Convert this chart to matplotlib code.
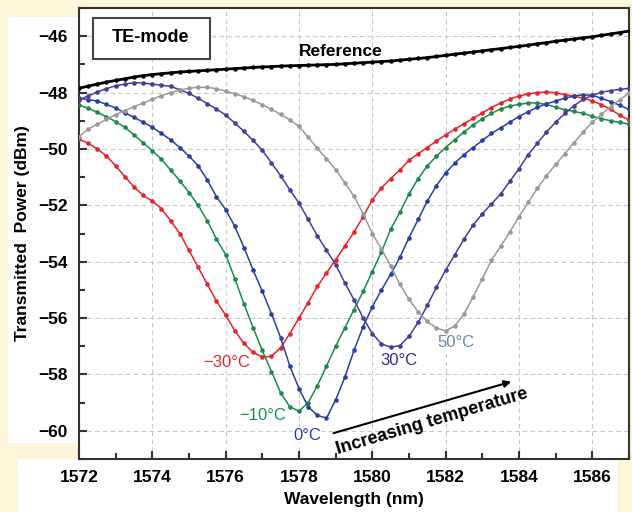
import numpy as np
import matplotlib
matplotlib.use("Agg")
import matplotlib.pyplot as plt
from matplotlib.patches import Rectangle

plt.rcParams["font.family"] = ["Liberation Sans", "DejaVu Sans"]

OUT_PATH = "out.png"

# wavelength grid (nm), 0.25 nm steps from 1572 to 1587
wavelength = np.arange(1572.0, 1587.001, 0.25)

reference = [
    -47.85, -47.77, -47.70, -47.63, -47.57, -47.51, -47.45, -47.40, -47.36, -47.33,
    -47.30, -47.27, -47.25, -47.23, -47.21, -47.19, -47.17, -47.15, -47.13, -47.11,
    -47.09, -47.08, -47.06, -47.05, -47.04, -47.03, -47.02, -47.01, -47.00, -46.98,
    -46.96, -46.94, -46.92, -46.90, -46.88, -46.85, -46.82, -46.79, -46.76, -46.72,
    -46.68, -46.64, -46.60, -46.56, -46.52, -46.48, -46.44, -46.40, -46.36, -46.32,
    -46.27, -46.23, -46.18, -46.14, -46.10, -46.06, -46.02, -45.97, -45.92, -45.87,
    -45.82,
]

t_minus30 = [
    -49.65, -49.80, -50.00, -50.25, -50.60, -50.98, -51.35, -51.65, -51.85, -52.12,
    -52.55, -53.00, -53.60, -54.20, -54.80, -55.40, -55.90, -56.45, -56.90, -57.22,
    -57.38, -57.36, -57.05, -56.55, -56.00, -55.45, -54.88, -54.40, -53.93, -53.45,
    -52.95, -52.40, -51.80, -51.38, -51.05, -50.75, -50.40, -50.17, -49.95, -49.72,
    -49.50, -49.30, -49.10, -48.92, -48.72, -48.53, -48.37, -48.23, -48.12, -48.05,
    -48.00, -47.98, -48.01, -48.07, -48.13, -48.20, -48.30, -48.43, -48.60, -48.80,
    -48.98,
]

t_minus10 = [
    -48.44, -48.56, -48.70, -48.86, -49.03, -49.23, -49.50, -49.78, -50.06, -50.37,
    -50.75, -51.13, -51.55, -52.00, -52.55, -53.20, -53.75, -54.60, -55.50, -56.35,
    -57.15, -57.90, -58.65, -59.15, -59.30, -59.00, -58.40, -57.70, -57.00, -56.35,
    -55.70, -55.05, -54.35, -53.65, -52.85, -52.25, -51.60, -51.05, -50.60, -50.25,
    -49.95, -49.67, -49.40, -49.15, -48.93, -48.74, -48.58, -48.48, -48.42, -48.37,
    -48.37, -48.42, -48.52, -48.61, -48.67, -48.74, -48.84, -48.93, -49.00, -49.06,
    -49.12,
]

t_0 = [
    -48.20, -48.25, -48.30, -48.42, -48.55, -48.72, -48.88, -49.05, -49.23, -49.45,
    -49.68, -49.95, -50.25, -50.60, -51.10, -51.70, -52.15, -52.75, -53.50, -54.30,
    -55.05, -55.85, -56.70, -57.70, -58.50, -59.15, -59.45, -59.55, -58.90, -58.10,
    -57.15, -56.30, -55.60, -55.00, -54.45, -53.85, -53.15, -52.50, -51.85, -51.30,
    -50.85, -50.50, -50.20, -49.95, -49.70, -49.45, -49.25, -49.05, -48.85, -48.68,
    -48.52, -48.40, -48.30, -48.20, -48.12, -48.08, -48.10, -48.20, -48.32, -48.45,
    -48.60,
]

t_30 = [
    -48.26, -48.12, -47.98, -47.86, -47.76, -47.70, -47.65, -47.66, -47.70, -47.74,
    -47.78, -47.90, -48.03, -48.20, -48.40, -48.58, -48.80, -49.08, -49.38, -49.70,
    -50.05, -50.50, -50.95, -51.45, -51.92, -52.50, -53.08, -53.60, -54.10, -54.75,
    -55.35, -56.00, -56.55, -56.92, -57.03, -56.98, -56.65, -56.15, -55.55, -54.90,
    -54.30, -53.75, -53.20, -52.70, -52.30, -51.95, -51.60, -51.15, -50.70, -50.20,
    -49.80, -49.40, -49.05, -48.74, -48.47, -48.24, -48.10, -47.99, -47.93, -47.89,
    -47.85,
]

t_50 = [
    -49.56, -49.30, -49.12, -48.95, -48.78, -48.64, -48.50, -48.37, -48.24, -48.11,
    -48.00, -47.91, -47.85, -47.81, -47.82, -47.86, -47.95, -48.04, -48.15, -48.28,
    -48.43, -48.60, -48.77, -48.97, -49.20, -49.58, -49.98, -50.35, -50.73, -51.20,
    -51.68, -52.30, -53.00, -53.55, -54.15, -54.80, -55.33, -55.78, -56.12, -56.36,
    -56.45, -56.28, -55.85, -55.25, -54.60, -53.95, -53.45, -52.95, -52.40, -51.90,
    -51.40, -50.95, -50.55, -50.17, -49.78, -49.40, -49.05, -48.77, -48.50, -48.25,
    -48.02,
]

curves = [
    (t_minus30, "#e5242b", "\u221230\u00b0C", "#e5242b", (1576.04, -57.59)),
    (t_minus10, "#1d8a4e", "\u221210\u00b0C", "#1a9050", (1577.02, -59.44)),
    (t_0, "#2b3fa0", "0\u00b0C", "#2b3ba8", (1578.22, -60.15)),
    (t_30, "#4a3c98", "30\u00b0C", "#33299e", (1580.73, -57.49)),
    (t_50, "#9a9a9a", "50\u00b0C", "#7088a8", (1582.28, -56.88)),
]


def draw(ax):
    ax.plot(wavelength, reference, color="black", lw=2.0, marker="o",
            ms=2.2, zorder=3)
    for values, color, label, label_color, pos in curves:
        ax.plot(wavelength, values, color=color, lw=1.1, marker="o",
                ms=2.3, zorder=3)
        ax.text(pos[0], pos[1], label, color=label_color, fontsize=12,
                ha="center", va="center", zorder=5,
                bbox=dict(facecolor="white", edgecolor="none", pad=0.5))

    ax.text(1579.14, -46.53, "Reference", fontsize=12.5, fontweight="bold",
            ha="center", va="center", zorder=5)

    ax.add_patch(Rectangle((0.0255, 0.887), 0.2127, 0.0909,
                           transform=ax.transAxes, facecolor="white",
                           edgecolor="#444444", lw=1.5, zorder=4))
    ax.text(1573.96, -46.06, "TE-mode", fontsize=13, fontweight="bold",
            ha="center", va="center", zorder=5)

    ax.annotate("", xy=(1583.86, -58.23), xytext=(1578.87, -60.11),
                arrowprops=dict(arrowstyle="-|>", color="black", lw=1.5,
                                mutation_scale=10), zorder=5)
    ax.text(1581.63, -59.66, "Increasing temperature", fontsize=13,
            fontweight="bold", rotation=16.5, ha="center", va="center",
            rotation_mode="anchor", zorder=5)


def style(ax):
    ax.set_xlim(1572, 1587)
    ax.set_ylim(-61, -45)
    ax.set_xticks(np.arange(1572, 1587, 2))
    ax.set_xticks(np.arange(1573, 1588, 2), minor=True)
    ax.set_yticks(np.arange(-60, -45, 2))
    ax.set_yticks(np.arange(-61, -44, 2), minor=True)
    ax.tick_params(which="major", direction="in", length=6, width=1.5,
                   labelsize=12.5, color="#333333", pad=8)
    ax.tick_params(which="minor", direction="in", length=4, width=1.5,
                   color="#333333")
    for lab in ax.get_xticklabels() + ax.get_yticklabels():
        lab.set_fontweight("bold")
    ax.grid(which="major", color="#c8c8c8", lw=0.8, ls=(0, (4, 3)), zorder=0)
    for sp in ax.spines.values():
        sp.set_color("#333333")
        sp.set_linewidth(1.5)
    ax.set_xlabel("Wavelength (nm)", fontsize=12.5, fontweight="bold",
                  labelpad=5)
    ax.set_ylabel("Transmitted  Power (dBm)", fontsize=12.5,
                  fontweight="bold", labelpad=6)


def main():
    fig = plt.figure(figsize=(6.32, 5.12), dpi=100, facecolor="#fdf6da")

    # white paper patches behind the labels (drawn under the axes)
    fig.patches.append(Rectangle((8 / 632, 1 - 443 / 512), 71 / 632,
                                 426 / 512, transform=fig.transFigure,
                                 facecolor="white", edgecolor="none",
                                 zorder=-5))
    fig.patches.append(Rectangle((18 / 632, 0), 600 / 632, 53 / 512,
                                 transform=fig.transFigure,
                                 facecolor="white", edgecolor="none",
                                 zorder=-5))

    ax = fig.add_axes([79 / 632, 53 / 512, 550 / 632, 451 / 512])
    ax.set_facecolor("white")

    draw(ax)
    style(ax)

    fig.savefig(OUT_PATH, dpi=100, facecolor=fig.get_facecolor())
    plt.close(fig)


if __name__ == "__main__":
    main()
